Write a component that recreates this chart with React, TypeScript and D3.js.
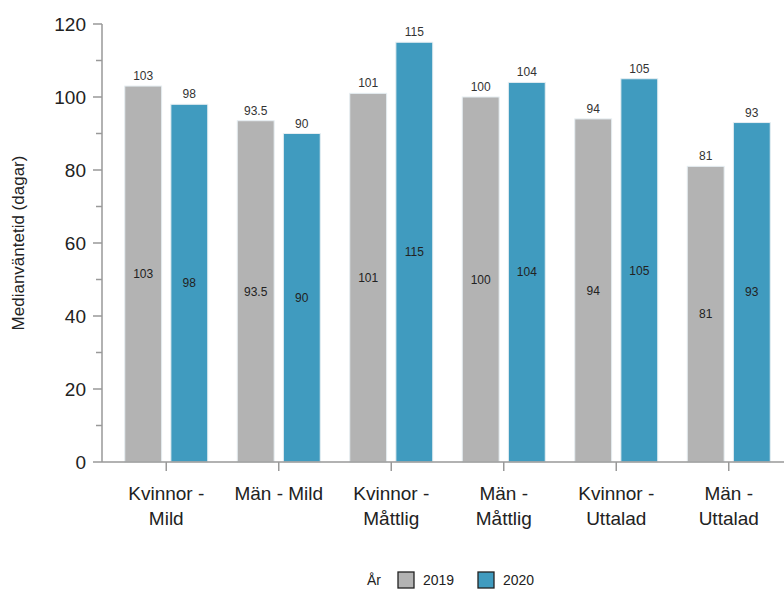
import React from "react";
import * as d3 from "d3";

const categories = [
  ["Kvinnor -", "Mild"],
  ["Män - Mild"],
  ["Kvinnor -", "Måttlig"],
  ["Män -", "Måttlig"],
  ["Kvinnor -", "Uttalad"],
  ["Män -", "Uttalad"],
];
const years = ["2019", "2020"];
const values2019 = [103, 93.5, 101, 100, 94, 81];
const values2020 = [98, 90, 115, 104, 105, 93];
const yTicks = [0, 20, 40, 60, 80, 100, 120];
const yMinorTicks = [10, 30, 50, 70, 90, 110];
const colors = ["#b3b3b3", "#409bbf"];

const W = 784;
const H = 590;
const FONT = "'Liberation Sans', Arial, sans-serif";

export default function App() {
  const y = d3.scaleLinear().domain([0, 120]).range([462, 24]);
  const x0 = d3
    .scaleBand<number>()
    .domain(d3.range(categories.length))
    .range([110, 785]);
  const x1 = d3
    .scaleBand<string>()
    .domain(years)
    .range([0, x0.bandwidth()])
    .paddingInner(0.2)
    .paddingOuter(0.32);
  const series = [values2019, values2020];
  const axisX = 102;

  return (
    <svg width={W} height={H} style={{ position: "absolute", left: 0, top: 0 }}>
      <rect width={W} height={H} fill="#fff" />
      {/* bars */}
      {categories.map((_, i) =>
        years.map((yr, s) => {
          const v = series[s][i];
          const bx = x0(i)! + x1(yr)!;
          const bw = x1.bandwidth();
          const top = y(v);
          return (
            <g key={`${i}-${s}`}>
              <rect
                x={bx}
                y={top}
                width={bw}
                height={y(0) - top}
                fill={colors[s]}
                stroke="#e6eef2"
                strokeWidth={1}
              />
              <text
                x={bx + bw / 2}
                y={top - 6}
                textAnchor="middle"
                fontFamily={FONT}
                fontSize={12}
                fill="#333"
              >
                {v}
              </text>
              <text
                x={bx + bw / 2}
                y={(top + y(0)) / 2}
                dy="0.35em"
                textAnchor="middle"
                fontFamily={FONT}
                fontSize={12}
                fill="#222"
              >
                {v}
              </text>
            </g>
          );
        })
      )}
      {/* y axis */}
      <line x1={axisX} x2={axisX} y1={y(120)} y2={y(0)} stroke="#999" strokeWidth={1.5} />
      {yTicks.map((t) => (
        <g key={t}>
          <line x1={axisX - 9} x2={axisX} y1={y(t)} y2={y(t)} stroke="#999" strokeWidth={1.5} />
          <text
            x={axisX - 16}
            y={y(t)}
            dy="0.36em"
            textAnchor="end"
            fontFamily={FONT}
            fontSize={19}
            fill="#222"
          >
            {t}
          </text>
        </g>
      ))}
      {yMinorTicks.map((t) => (
        <line key={t} x1={axisX - 6} x2={axisX} y1={y(t)} y2={y(t)} stroke="#999" strokeWidth={1.5} />
      ))}
      <text
        transform={`translate(24,${y(60)}) rotate(-90)`}
        textAnchor="middle"
        fontFamily={FONT}
        fontSize={17}
        fill="#222"
      >
        Medianväntetid (dagar)
      </text>
      {/* x axis */}
      <line x1={axisX} x2={W} y1={y(0)} y2={y(0)} stroke="#999" strokeWidth={1.5} />
      {categories.map((lines, i) => {
        const cx = x0(i)! + x0.bandwidth() / 2;
        return (
          <g key={i}>
            <line x1={cx} x2={cx} y1={y(0)} y2={y(0) + 9} stroke="#999" strokeWidth={1.5} />
            {lines.map((l, k) => (
              <text
                key={k}
                x={cx}
                y={500 + k * 25}
                textAnchor="middle"
                fontFamily={FONT}
                fontSize={19}
                fill="#222"
              >
                {l}
              </text>
            ))}
          </g>
        );
      })}
      {/* legend */}
      <g fontFamily={FONT} fontSize={14} fill="#222">
        <text x={367} y={585}>År</text>
        {years.map((yr, s) => (
          <g key={yr} transform={`translate(${398 + s * 80},0)`}>
            <rect x={0} y={572} width={16} height={16} fill={colors[s]} stroke="#222" strokeWidth={1.3} />
            <text x={25} y={585}>{yr}</text>
          </g>
        ))}
      </g>
    </svg>
  );
}
